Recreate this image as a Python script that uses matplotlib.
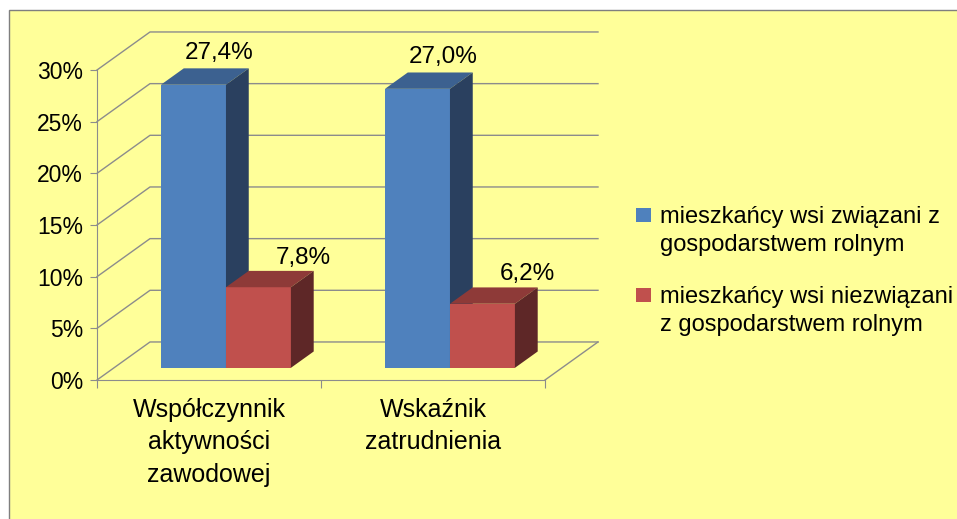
import matplotlib
matplotlib.use("Agg")
import matplotlib.pyplot as plt
from matplotlib.patches import Polygon, Rectangle

plt.rcParams['font.family'] = ['Liberation Sans', 'DejaVu Sans']

# dane
categories = ['Współczynnik\naktywności\nzawodowej', 'Wskaźnik\nzatrudnienia']
series_names = ['mieszkańcy wsi związani z\ngospodarstwem rolnym',
                'mieszkańcy wsi niezwiązani\nz gospodarstwem rolnym']
values = [[27.4, 27.0],   # związani
          [7.8, 6.2]]     # niezwiązani
value_labels = [['27,4%', '27,0%'], ['7,8%', '6,2%']]
yticks = [0, 5, 10, 15, 20, 25, 30]

# kolory (przód, góra, bok)
front_c = ['#4F81BD', '#C0504D']
top_c = ['#3C6190', '#8E3A38']
side_c = ['#2A405F', '#5E2727']
bg = '#FFFF99'
grid_c = '#8C8C8C'

W, H = 957, 519
fig = plt.figure(figsize=(W / 100, H / 100), dpi=100)
fig.patch.set_facecolor('white')
fig.patches.append(Rectangle((9 / W, -0.05), 1.2, 1 - 10 / H + 0.05,
                             transform=fig.transFigure, facecolor=bg,
                             edgecolor='#7F7F7F', lw=1, zorder=-10))

ax = fig.add_axes([97 / W, 139 / H, 448 / W, 310 / H])
ax.set_facecolor('none')
ax.set_xlim(-0.5, 1.5)
ax.set_ylim(0, 30)

# głębia wykresu 3D (w jednostkach danych)
DX, DY = 0.2366, 3.68
t0, t1 = 0.32, 0.75
w = 0.29

# siatka: ściana tylna, ściana boczna, podłoga
x_left, x_right = -0.5, 1.5
for v in yticks:
    ax.plot([x_left, x_left + DX, x_right + DX], [v, v + DY, v + DY],
            color=grid_c, lw=1, clip_on=False, zorder=1)
ax.plot([x_right, x_right + DX], [0, DY], color=grid_c, lw=1,
        clip_on=False, zorder=1)

# słupki
d = t1 - t0
for c in range(len(categories)):
    for i in range(len(values)):
        v = values[i][c]
        b = t0 * DY
        x0 = c - w + i * w + t0 * DX
        x1 = x0 + w
        front = Polygon([(x0, b), (x1, b), (x1, b + v), (x0, b + v)],
                        closed=True, facecolor=front_c[i], edgecolor='none')
        top = Polygon([(x0, b + v), (x1, b + v), (x1 + d * DX, b + v + d * DY),
                       (x0 + d * DX, b + v + d * DY)],
                      closed=True, facecolor=top_c[i], edgecolor='none')
        side = Polygon([(x1, b), (x1 + d * DX, b + d * DY),
                        (x1 + d * DX, b + v + d * DY), (x1, b + v)],
                       closed=True, facecolor=side_c[i], edgecolor='none')
        for p in (front, top, side):
            p.set_zorder(3)
            p.set_clip_on(False)
            ax.add_patch(p)
        ax.annotate(value_labels[i][c],
                    ((x0 + x1) / 2 + d * DX, b + v + d * DY),
                    xytext=([2, 16][i], [7, 5][i]), textcoords='offset points',
                    ha='center', va='baseline', fontsize=17.5, zorder=5,
                    annotation_clip=False)

# osie
for s in ['top', 'right']:
    ax.spines[s].set_visible(False)
for s in ['left', 'bottom']:
    ax.spines[s].set_color(grid_c)
ax.set_yticks(yticks)
ax.set_yticklabels([f'{v}%' for v in yticks], fontsize=16.5)
ax.set_xticks([-0.5, 0.5, 1.5])
ax.set_xticklabels([])
ax.set_xticks(range(len(categories)), minor=True)
ax.set_xticklabels(categories, minor=True, fontsize=18, linespacing=1.44)
ax.tick_params(axis='x', which='minor', length=0, pad=13)
ax.tick_params(axis='x', which='major', length=6, color=grid_c, direction='out')
ax.tick_params(axis='y', length=5, color=grid_c, pad=5)

# legenda
sq_y = [208, 288]
txt_y = [206, 286]
for i, name in enumerate(series_names):
    fig.patches.append(Rectangle((636 / W, 1 - (sq_y[i] + 14) / H), 15 / W, 14 / H,
                                 transform=fig.transFigure,
                                 facecolor=front_c[i], edgecolor='none'))
    fig.text(660 / W, 1 - txt_y[i] / H, name, fontsize=17,
             va='top', ha='left', linespacing=1.37)

fig.savefig('out.png', dpi=100, facecolor=fig.get_facecolor())
